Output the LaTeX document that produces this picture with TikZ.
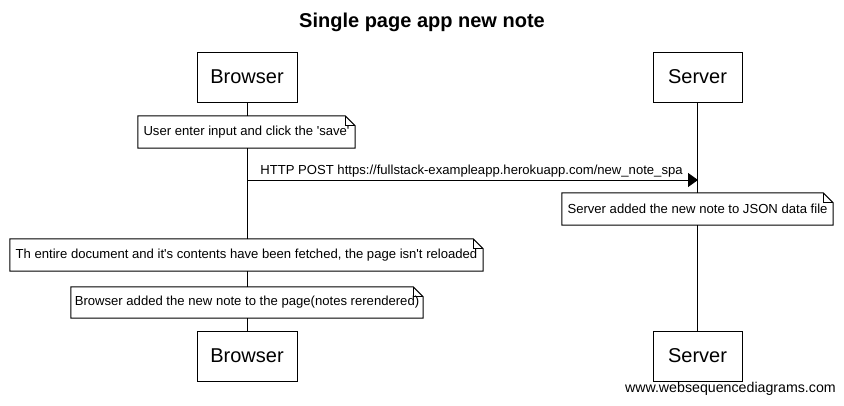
\documentclass[tikz,border=0pt]{standalone}
\usepackage{fontspec}
\setmainfont{Liberation Sans}
\usetikzlibrary{arrows.meta}

\tikzset{
  actorbox/.style={draw=black, line width=1pt, fill=white, minimum height=50pt,
    inner sep=0pt, font=\fontsize{20}{24}\selectfont},
  notebox/.style={fill=white, minimum height=32pt, inner sep=0pt,
    font=\fontsize{13.1}{15}\selectfont},
  lifeline/.style={draw=black, line width=1pt},
  noteline/.style={draw=black, line width=1pt, line join=miter},
  message/.style={draw=black, line width=1pt, -{Triangle[length=10pt,width=14pt]}},
}

% outline of a note with a folded top-right corner
\newcommand\foldnote[1]{%
  \draw[noteline] (#1.north west) -- ([xshift=-10pt]#1.north east)
    -- ([yshift=-10pt]#1.north east) -- (#1.south east) -- (#1.south west) -- cycle;
  \draw[noteline] ([xshift=-10pt]#1.north east) |- ([yshift=-10pt]#1.north east);
}

\begin{document}
\begin{tikzpicture}[x=1pt, y=-1pt]
  \useasboundingbox[fill=white] (0,0) rectangle (844,405);

  % title
  \node[font=\bfseries\fontsize{20}{24}\selectfont] (title) at (422,22) {Single page app new note};

  % participants
  \node[actorbox, minimum width=100pt] (browserTop) at (247,77) {Browser};
  \node[actorbox, minimum width=89pt]  (serverTop)  at (697.5,77) {Server};
  \node[actorbox, minimum width=100pt] (browserBot) at (247,356) {Browser};
  \node[actorbox, minimum width=89pt]  (serverBot)  at (697.5,356) {Server};

  % lifelines
  \draw[lifeline] (browserTop.south) -- (browserBot.north);
  \draw[lifeline] (serverTop.south) -- (serverBot.north);

  % notes
  \node[notebox, minimum width=217pt] (n1) at (246.5,132) {User enter input and click the \textquotesingle save\textquotesingle};
  \foldnote{n1}

  \coordinate (reqFrom) at (247,180);
  \coordinate (reqTo) at (698,180);
  \draw[message] (reqFrom) -- (reqTo)
    node[midway, above=-1pt, font=\fontsize{13.1}{15}\selectfont, xshift=-1pt] (reqLabel)
    {HTTP POST https://fullstack-exampleapp.herokuapp.com/new\_note\_spa};

  \node[notebox, minimum width=271pt] (n2) at (697.5,209) {Server added the new note to JSON data file};
  \foldnote{n2}

  \node[notebox, minimum width=473pt] (n3) at (246.5,255) {Th entire document and it\textquotesingle s contents have been fetched, the page isn\textquotesingle t reloaded};
  \foldnote{n3}

  \node[notebox, minimum width=352pt, minimum height=31pt] (n4) at (247,302.5) {Browser added the new note to the page(notes rerendered)};
  \foldnote{n4}

  % footer
  \node[anchor=east, font=\fontsize{14.2}{16}\selectfont, inner sep=0pt] (footer) at (836,389) {www.websequencediagrams.com};
\end{tikzpicture}
\end{document}
